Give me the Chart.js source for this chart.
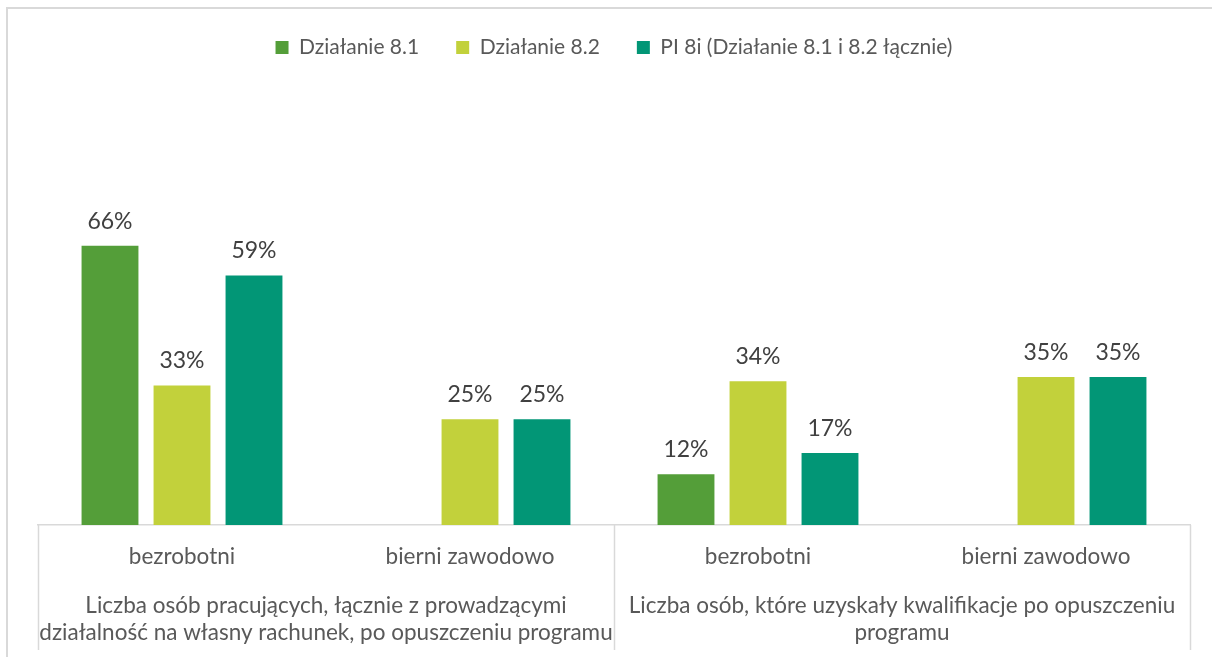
<!DOCTYPE html>
<html>
<head>
<meta charset="utf-8">
<script src="https://cdn.jsdelivr.net/npm/chart.js@4/dist/chart.umd.min.js"></script>
<style>
  body { margin: 0; background: #fff; }
  #wrap { position: relative; width: 1212px; height: 657px; }
  #frame { position: absolute; left: 6px; top: 7px; width: 1300px; height: 700px;
           border-left: 2px solid #d9d9d9; border-top: 2px solid #d9d9d9; }
  canvas { position: absolute; left: 0; top: 0; }
</style>
</head>
<body>
<div id="wrap">
  <div id="frame"></div>
  <canvas id="chart"></canvas>
</div>
<script>
// data
const categories = ['bezrobotni', 'bierni zawodowo', 'bezrobotni', 'bierni zawodowo'];
const groups = [
  ['Liczba osób pracujących, łącznie z prowadzącymi', 'działalność na własny rachunek, po opuszczeniu programu'],
  ['Liczba osób, które uzyskały kwalifikacje po opuszczeniu', 'programu']
];
const seriesNames = ['Działanie 8.1', 'Działanie 8.2', 'PI 8i (Działanie 8.1 i 8.2 łącznie)'];
const dzialanie81 = [66, null, 12, null];
const dzialanie82 = [33, 25, 34, 35];
const pi8i = [59, 25, 17, 35];
const colors = ['#549E39', '#C2D13B', '#029676'];

const textColor = '#595959';
const fontFamily = 'Lato, "Noto Sans", sans-serif';
Chart.defaults.font.family = fontFamily;
Chart.defaults.color = textColor;

// push the plot area down under the legend
const legendGap = {
  id: 'legendGap',
  beforeInit(chart) {
    const fit = chart.legend.fit;
    chart.legend.fit = function () {
      fit.bind(chart.legend)();
      this.height += 34;
    };
  }
};

// percent labels over the bars
const barLabels = {
  id: 'barLabels',
  afterDatasetsDraw(chart) {
    const ctx = chart.ctx;
    ctx.save();
    ctx.font = '23px ' + fontFamily;
    ctx.fillStyle = '#404040';
    ctx.textAlign = 'center';
    ctx.textBaseline = 'alphabetic';
    chart.data.datasets.forEach((ds, i) => {
      const meta = chart.getDatasetMeta(i);
      meta.data.forEach((bar, j) => {
        const v = ds.data[j];
        if (v === null) return;
        ctx.fillText(v + '%', bar.x, bar.y - 17);
      });
    });
    ctx.restore();
  }
};

// the box lines of the two-level axis
const axisBoxes = {
  id: 'axisBoxes',
  afterDraw(chart) {
    const ctx = chart.ctx;
    const x = chart.scales.x;
    const area = chart.chartArea;
    const xs = [area.left, x.getPixelForValue(1.5), area.right];
    ctx.save();
    ctx.strokeStyle = '#d9d9d9';
    ctx.lineWidth = 1.5;
    xs.forEach(px => {
      ctx.beginPath();
      ctx.moveTo(Math.round(px) + 0.5, area.bottom);
      ctx.lineTo(Math.round(px) + 0.5, 650);
      ctx.stroke();
    });
    ctx.restore();
  }
};

new Chart(document.getElementById('chart'), {
  type: 'bar',
  data: {
    labels: categories,
    datasets: [
      { label: seriesNames[0], data: dzialanie81, backgroundColor: colors[0] },
      { label: seriesNames[1], data: dzialanie82, backgroundColor: colors[1] },
      { label: seriesNames[2], data: pi8i, backgroundColor: colors[2] }
    ]
  },
  options: {
    responsive: true,
    maintainAspectRatio: false,
    animation: false,
    categoryPercentage: 0.75,
    barPercentage: 0.79,
    layout: { padding: { left: 38, right: 22, top: 0, bottom: 7 } },
    plugins: {
      legend: {
        position: 'top',
        labels: { boxWidth: 13, boxHeight: 13, padding: 37, color: textColor, font: { size: 21 } }
      },
      tooltip: { enabled: false }
    },
    scales: {
      y: { display: false, min: 0, max: 100 },
      x: {
        grid: { display: false, drawTicks: false },
        border: { display: true, color: '#d9d9d9', width: 1.5 },
        ticks: { padding: 18.5, color: textColor, font: { size: 22.5, lineHeight: 1.2 }, maxRotation: 0 }
      },
      x2: {
        type: 'category',
        position: 'bottom',
        labels: groups,
        grid: { display: false, drawTicks: false },
        border: { display: false },
        ticks: { padding: 3.5, color: textColor, font: { size: 22.5, lineHeight: 1.2 }, maxRotation: 0, autoSkip: false }
      }
    }
  },
  plugins: [legendGap, barLabels, axisBoxes]
});
</script>
</body>
</html>
